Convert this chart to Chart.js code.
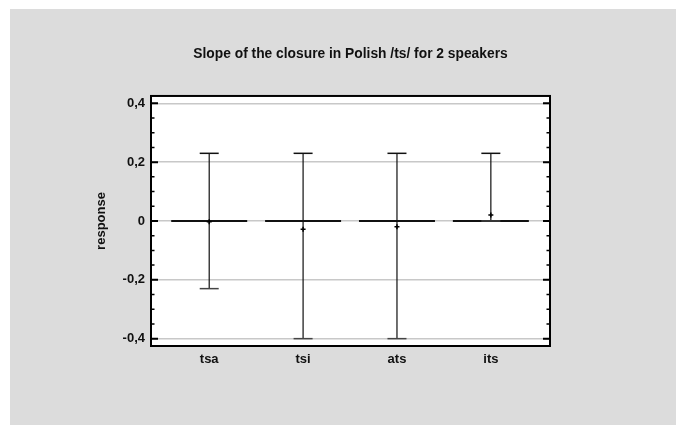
<!DOCTYPE html>
<html>
<head>
<meta charset="utf-8">
<script src="https://cdn.jsdelivr.net/npm/chart.js@4/dist/chart.umd.min.js"></script>
<style>
  html, body { margin: 0; padding: 0; background: #ffffff; }
  #wrap { position: absolute; left: 10px; top: 9px; width: 666px; height: 416px; background: #dcdcdc; }
  canvas { display: block; }
</style>
</head>
<body>
<div id="wrap"><canvas id="c" width="666" height="416"></canvas></div>
<script>
// ---- data ----
const categories = ['tsa', 'tsi', 'ats', 'its'];
const means      = [-0.003, -0.028, -0.020, 0.020];
const upper      = [0.23, 0.23, 0.23, 0.23];
const lower      = [-0.23, -0.40, -0.40, 0.0];
const baseline   = [0, 0, 0, 0];
const yTicks     = [-0.4, -0.2, 0, 0.2, 0.4];
const yMin = -0.425, yMax = 0.425;

const FONT = "'Liberation Sans', Arial, Helvetica, sans-serif";
const idx = categories.map((_, i) => i);

const whiskerData = [];
idx.forEach(i => {
  whiskerData.push({x: i, y: lower[i]}, {x: i, y: upper[i]}, {x: i, y: null});
});

const framePlugin = {
  id: 'frameTicks',
  afterDraw(chart) {
    const {ctx, chartArea: a, scales: {y}} = chart;
    ctx.save();
    ctx.strokeStyle = '#000';
    for (let k = -8; k <= 8; k++) {
      const v = k * 0.05;
      const major = (k % 4 === 0);
      const py = y.getPixelForValue(v);
      const len = major ? 7 : 3.5;
      ctx.lineWidth = major ? 2 : 1.5;
      ctx.beginPath();
      ctx.moveTo(a.left, py); ctx.lineTo(a.left + len, py);
      ctx.moveTo(a.right, py); ctx.lineTo(a.right - len, py);
      ctx.stroke();
    }
    ctx.lineWidth = 2;
    ctx.strokeRect(a.left, a.top, a.right - a.left, a.bottom - a.top);
    ctx.restore();
  }
};

const bgPlugin = {
  id: 'plotBg',
  beforeDraw(chart) {
    const {ctx, chartArea: a} = chart;
    ctx.save();
    ctx.fillStyle = '#ffffff';
    ctx.fillRect(a.left, a.top, a.right - a.left, a.bottom - a.top);
    ctx.restore();
  }
};

new Chart(document.getElementById('c'), {
  type: 'scatter',
  data: {
    datasets: [
      {
        label: 'baseline',
        data: idx.map(i => ({x: i, y: baseline[i]})),
        pointStyle: 'line', pointRadius: 38, borderWidth: 2,
        borderColor: '#111', backgroundColor: '#111', order: 4
      },
      {
        label: 'interval',
        type: 'line',
        data: whiskerData,
        showLine: true, spanGaps: false, pointRadius: 0,
        borderColor: '#111', borderWidth: 1.2, order: 3
      },
      {
        label: 'upper',
        data: idx.map(i => ({x: i, y: upper[i]})),
        pointStyle: 'line', pointRadius: 9.5, borderWidth: 1.5,
        borderColor: '#111', order: 2
      },
      {
        label: 'lower',
        data: idx.map(i => ({x: i, y: lower[i]})),
        pointStyle: 'line', pointRadius: 9.5, borderWidth: 1.5,
        borderColor: '#444', order: 2
      },
      {
        label: 'mean',
        data: idx.map(i => ({x: i, y: means[i]})),
        pointStyle: 'cross', pointRadius: 2.5, borderWidth: 1.5,
        borderColor: '#000', order: 1
      }
    ]
  },
  options: {
    responsive: false,
    animation: false,
    events: [],
    layout: { padding: { left: 78, right: 126, top: 0, bottom: 49 } },
    plugins: {
      legend: { display: false },
      tooltip: { enabled: false },
      title: {
        display: true,
        fullSize: false,
        text: 'Slope of the closure in Polish /ts/ for 2 speakers',
        color: '#111',
        font: { family: FONT, size: 13.8, weight: 'bold', lineHeight: 1.2 },
        padding: { top: 36.7, bottom: 33.7 }
      }
    },
    scales: {
      x: {
        type: 'linear',
        min: -0.62, max: 3.63,
        afterBuildTicks(s) { s.ticks = idx.map(i => ({value: i})); },
        afterFit(s) { s.height = 30; },
        grid: { display: false, drawTicks: false },
        border: { display: false },
        ticks: {
          padding: 6,
          color: '#111',
          font: { family: FONT, size: 13, weight: 'bold' },
          callback: (v) => categories[v] !== undefined ? categories[v] : ''
        }
      },
      y: {
        type: 'linear',
        min: yMin, max: yMax,
        afterBuildTicks(s) { s.ticks = yTicks.map(v => ({value: v})); },
        afterFit(s) { s.width = 63; },
        grid: { color: '#c8c8c8', lineWidth: 1.5, drawTicks: false },
        border: { display: false },
        ticks: {
          padding: 6,
          color: '#111',
          font: { family: FONT, size: 13, weight: 'bold' },
          callback: (v) => (Math.abs(v) < 1e-9 ? '0' : v.toFixed(1).replace('.', ','))
        },
        title: {
          display: true,
          text: 'response',
          color: '#111',
          font: { family: FONT, size: 13, weight: 'bold', lineHeight: 1.2 },
          padding: { top: 5.2, bottom: 0 }
        }
      }
    }
  },
  plugins: [bgPlugin, framePlugin]
});
</script>
</body>
</html>
